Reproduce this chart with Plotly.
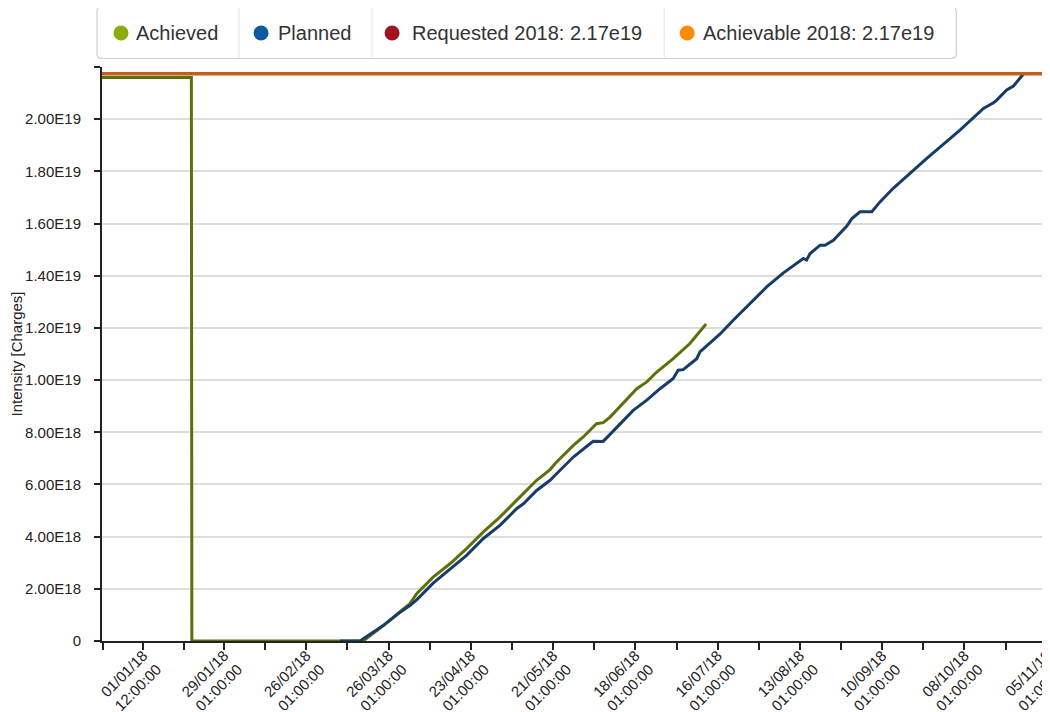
import pandas as pd
import plotly.graph_objects as go

# ---------------- data ----------------
achieved_dates = [
    '2017-12-18 12:00', '2018-01-17 22:00', '2018-01-18 02:00', '2018-03-17 10:00',
    '2018-03-24 05:00', '2018-03-29 22:00', '2018-04-02 07:00', '2018-04-04 14:00',
    '2018-04-10 05:00', '2018-04-15 22:00', '2018-04-21 14:00', '2018-04-27 05:00',
    '2018-05-02 22:00', '2018-05-08 14:00', '2018-05-10 22:00', '2018-05-15 10:00',
    '2018-05-20 00:00', '2018-05-22 05:00', '2018-05-27 22:00', '2018-05-31 07:00',
    '2018-06-04 19:00', '2018-06-07 02:00', '2018-06-09 10:00', '2018-06-13 22:00',
    '2018-06-18 12:00', '2018-06-21 22:00', '2018-06-25 07:00', '2018-06-30 22:00',
    '2018-07-06 14:00', '2018-07-12 02:00',
]
achieved_e18 = [
    21.6, 21.6, 0.0, 0.0,
    0.59, 1.10, 1.43, 1.81,
    2.45, 2.96, 3.54, 4.17,
    4.75, 5.39, 5.65, 6.16,
    6.57, 6.86, 7.50, 7.82,
    8.33, 8.37, 8.58, 9.10,
    9.67, 9.93, 10.31, 10.82,
    11.40, 12.15,
]

planned_dates = [
    '2018-03-09 12:00', '2018-03-16 07:00', '2018-03-24 05:00', '2018-03-29 22:00',
    '2018-04-02 07:00', '2018-04-04 14:00', '2018-04-10 05:00', '2018-04-15 22:00',
    '2018-04-21 14:00', '2018-04-27 05:00', '2018-05-02 22:00', '2018-05-08 14:00',
    '2018-05-10 22:00', '2018-05-15 10:00', '2018-05-20 00:00', '2018-05-22 05:00',
    '2018-05-27 22:00', '2018-06-02 14:00', '2018-06-03 17:00', '2018-06-07 02:00',
    '2018-06-11 17:00', '2018-06-17 07:00', '2018-06-21 22:00', '2018-06-26 10:00',
    '2018-06-30 22:00', '2018-07-02 14:00', '2018-07-04 07:00', '2018-07-08 22:00',
    '2018-07-10 00:00', '2018-07-16 19:00', '2018-07-21 10:00', '2018-08-01 17:00',
    '2018-08-07 10:00', '2018-08-14 05:00', '2018-08-15 07:00', '2018-08-16 12:00',
    '2018-08-19 22:00', '2018-08-21 14:00', '2018-08-24 10:00', '2018-08-29 00:00',
    '2018-08-30 17:00', '2018-09-02 12:00', '2018-09-06 12:00', '2018-09-09 07:00',
    '2018-09-13 19:00', '2018-09-25 05:00', '2018-10-06 12:00', '2018-10-14 12:00',
    '2018-10-17 22:00', '2018-10-19 00:00', '2018-10-22 10:00', '2018-10-24 17:00',
    '2018-10-26 10:00', '2018-10-28 02:00',
]
planned_e18 = [
    0.0, 0.0, 0.59, 1.10,
    1.36, 1.58, 2.22, 2.77,
    3.28, 3.92, 4.43, 5.07,
    5.26, 5.77, 6.16, 6.41,
    7.05, 7.56, 7.66, 7.65,
    8.20, 8.84, 9.23, 9.67,
    10.06, 10.38, 10.40, 10.82,
    11.08, 11.76, 12.30, 13.57,
    14.11, 14.66, 14.60, 14.85,
    15.17, 15.17, 15.36, 15.90,
    16.19, 16.45, 16.45, 16.83,
    17.35, 18.50, 19.58, 20.41,
    20.63, 20.73, 21.12, 21.27,
    21.50, 21.73,
]

requested_2018 = 2.174e19
achievable_2018 = 2.174e19
target_dates = ['2017-12-18 12:00', '2018-11-03 12:00']

x_range = ['2017-12-18 12:00', '2018-11-05 03:00']
x_major_ticks = [
    '2018-01-01 12:00', '2018-01-29 01:00', '2018-02-26 01:00', '2018-03-26 01:00',
    '2018-04-23 01:00', '2018-05-21 01:00', '2018-06-18 01:00', '2018-07-16 01:00',
    '2018-08-13 01:00', '2018-09-10 01:00', '2018-10-08 01:00', '2018-11-05 01:00',
]
x_major_labels = [
    '01/01/18<br>12:00:00', '29/01/18<br>01:00:00', '26/02/18<br>01:00:00',
    '26/03/18<br>01:00:00', '23/04/18<br>01:00:00', '21/05/18<br>01:00:00',
    '18/06/18<br>01:00:00', '16/07/18<br>01:00:00', '13/08/18<br>01:00:00',
    '10/09/18<br>01:00:00', '08/10/18<br>01:00:00', '05/11/18<br>01:00:00',
]

y_tick_values = [0, 2e18, 4e18, 6e18, 8e18, 1e19, 1.2e19, 1.4e19, 1.6e19, 1.8e19, 2e19, 2.2e19]
y_tick_labels = ['0', '2.00E18', '4.00E18', '6.00E18', '8.00E18', '1.00E19', '1.20E19',
                 '1.40E19', '1.60E19', '1.80E19', '2.00E19', '']
y_range = [0, 2.2e19]

series_names = ['Achieved', 'Planned', 'Requested 2018: 2.17e19', 'Achievable 2018: 2.17e19']
legend_colors = ['#8cab0c', '#0d5b9e', '#a0141f', '#ff8c00']
line_colors = ['#5e700c', '#163d66', '#a0141f', '#c4620f']

# ---------------- build ----------------
FONT = 'Liberation Sans, Arial, Helvetica, sans-serif'
OFF = 8                      # page body margin
W, H = 1050 - OFF, 712 - OFF
ML, MT = 102 - OFF, 67 - OFF
MR = W - (1046.7 - OFF)
MB = H - (641 - OFF)
PW, PH = W - ML - MR, H - MT - MB

achieved_vals = [v * 1e18 for v in achieved_e18]
planned_vals = [v * 1e18 for v in planned_e18]

# minor ticks between major ticks (plus one before the first)
maj = pd.to_datetime(x_major_ticks)
mids = [maj[0] - (maj[1] - maj[0]) / 2] + [maj[i] + (maj[i + 1] - maj[i]) / 2 for i in range(len(maj) - 1)]
tick_vals = []
tick_text = []
for i in range(len(maj)):
    tick_vals += [mids[i], maj[i]]
    tick_text += ['', x_major_labels[i]]

LW = 3
fig = go.Figure()
fig.add_trace(go.Scatter(x=achieved_dates, y=achieved_vals, mode='lines', name=series_names[0],
                         line=dict(color=line_colors[0], width=LW), showlegend=False))
fig.add_trace(go.Scatter(x=planned_dates, y=planned_vals, mode='lines', name=series_names[1],
                         line=dict(color=line_colors[1], width=LW), showlegend=False))
fig.add_trace(go.Scatter(x=target_dates, y=[requested_2018] * 2, mode='lines', name=series_names[2],
                         line=dict(color=line_colors[2], width=LW), showlegend=False))
fig.add_trace(go.Scatter(x=target_dates, y=[achievable_2018] * 2, mode='lines', name=series_names[3],
                         line=dict(color=line_colors[3], width=LW), showlegend=False))


def pxx(p):
    return (p - OFF - ML) / PW


def pxy(p):
    return (H - MB - (p - OFF)) / PH


# custom boxed legend (screen pixel positions)
bx0, bx1, by0, by1, r = 97, 956, 6.5, 58.5, 5
path = (f"M {pxx(bx0 + r)},{pxy(by0)} L {pxx(bx1 - r)},{pxy(by0)} "
        f"Q {pxx(bx1)},{pxy(by0)} {pxx(bx1)},{pxy(by0 + r)} L {pxx(bx1)},{pxy(by1 - r)} "
        f"Q {pxx(bx1)},{pxy(by1)} {pxx(bx1 - r)},{pxy(by1)} L {pxx(bx0 + r)},{pxy(by1)} "
        f"Q {pxx(bx0)},{pxy(by1)} {pxx(bx0)},{pxy(by1 - r)} L {pxx(bx0)},{pxy(by0 + r)} "
        f"Q {pxx(bx0)},{pxy(by0)} {pxx(bx0 + r)},{pxy(by0)} Z")
shapes = [dict(type='path', path=path, xref='paper', yref='paper',
               line=dict(color='#cfcfcf', width=1.2), fillcolor='white', layer='above')]
for dx in [239, 372, 664]:
    shapes.append(dict(type='line', xref='paper', yref='paper', x0=pxx(dx), x1=pxx(dx),
                       y0=pxy(by0 + 1), y1=pxy(by1 - 1), line=dict(color='#e2e2e2', width=1)))
dot_x = [121, 261, 392, 687]
text_x = [134, 276, 410, 701]
annotations = []
for i in range(4):
    shapes.append(dict(type='circle', xref='paper', yref='paper', xsizemode='pixel', ysizemode='pixel',
                       xanchor=pxx(dot_x[i]), yanchor=pxy(33), x0=-7.5, x1=7.5, y0=-7.5, y1=7.5,
                       fillcolor=legend_colors[i], line=dict(width=0)))
    annotations.append(dict(text=series_names[i], xref='paper', yref='paper', x=pxx(text_x[i]), y=pxy(33),
                            xanchor='left', yanchor='middle', showarrow=False,
                            font=dict(family=FONT, size=20, color='#333333')))

fig.update_layout(
    width=W, height=H,
    margin=dict(l=ML, r=MR, t=MT, b=MB, autoexpand=False),
    paper_bgcolor='white', plot_bgcolor='white',
    font=dict(family=FONT, color='#222222'),
    shapes=shapes, annotations=annotations,
    showlegend=False, hovermode=False,
    xaxis=dict(type='date', range=x_range, tickvals=tick_vals, ticktext=tick_text, tickangle=-45,
               ticks='outside', ticklen=7, tickwidth=1.5, tickcolor='#222222',
               showline=True, linecolor='#222222', linewidth=2, showgrid=False, zeroline=False,
               tickfont=dict(family=FONT, size=15, color='#222222'), ticklabelstandoff=-9,
               ticklabeloverflow='allow', automargin=False),
    yaxis=dict(range=y_range, tickvals=y_tick_values, ticktext=y_tick_labels,
               ticks='outside', ticklen=6, tickwidth=1.5, tickcolor='#222222',
               showline=True, linecolor='#222222', linewidth=2,
               showgrid=True, gridcolor='#dddddd', gridwidth=1.5, zeroline=False,
               tickfont=dict(family=FONT, size=15, color='#222222'), ticklabelstandoff=10,
               title=dict(text='Intensity [Charges]', font=dict(family=FONT, size=15, color='#222222'),
                          standoff=0),
               automargin=False),
)

fig.write_html('out.html')
